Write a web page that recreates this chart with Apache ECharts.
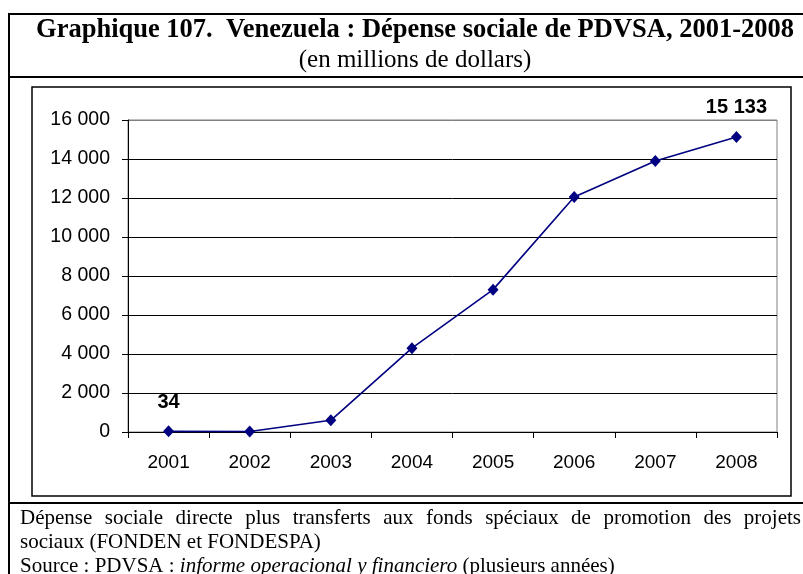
<!DOCTYPE html>
<html>
<head>
<meta charset="utf-8">
<script src="https://cdn.jsdelivr.net/npm/echarts@6/dist/echarts.min.js"></script>
<style>
html,body{margin:0;padding:0;background:#fff;}
#chart{width:803px;height:574px;}
</style>
</head>
<body>
<div id="chart"></div>
<script>
const titleLine = "Graphique 107.  Venezuela : Dépense sociale de PDVSA, 2001-2008";
const subtitleLine = "(en millions de dollars)";
const noteLine1 = "Dépense sociale directe plus transferts aux fonds spéciaux de promotion des projets";
const noteLine2 = "sociaux (FONDEN et FONDESPA)";
const sourcePrefix = "Source : PDVSA : ";
const sourceItalic = "informe operacional y financiero";
const sourceSuffix = " (plusieurs années)";

const years = ["2001", "2002", "2003", "2004", "2005", "2006", "2007", "2008"];
const spending = [34, 25, 600, 4300, 7300, 12050, 13900, 15133];
const labelledYears = ["2001", "2008"];
const yTicks = [0, 2000, 4000, 6000, 8000, 10000, 12000, 14000, 16000];

function fmt(v) {
  return String(Math.round(v)).replace(/\B(?=(\d{3})+(?!\d))/g, " ");
}

const serif = '"Liberation Serif", "Times New Roman", serif';
const sans = '"Liberation Sans", Arial, sans-serif';

// justified first note line
const noteFont = '21px ' + serif;
const cv = document.createElement('canvas').getContext('2d');
cv.font = noteFont;
const words = noteLine1.split(' ');
const wWidths = words.map(w => cv.measureText(w).width);
const leftX = 20, rightX = 801;
const totalW = wWidths.reduce((a, b) => a + b, 0);
const gap = (rightX - leftX - totalW) / (words.length - 1);
const justified = [];
let cx = leftX;
words.forEach((w, i) => {
  justified.push({
    type: 'text', x: cx, y: 518,
    style: { text: w, font: noteFont, fill: '#000', textVerticalAlign: 'middle', textAlign: 'left' }
  });
  cx += wWidths[i] + gap;
});

const gridColors = yTicks.map((t, i) => i === yTicks.length - 1 ? '#808080' : '#000');

const chart = echarts.init(document.getElementById('chart'), null, { renderer: 'canvas' });

chart.setOption({
  animation: false,
  backgroundColor: '#fff',
  grid: {
    left: 128, right: 26, top: 120, bottom: 142,
    show: true, borderColor: '#808080', borderWidth: 1, backgroundColor: 'transparent'
  },
  xAxis: {
    type: 'category',
    data: years,
    boundaryGap: true,
    axisLine: { lineStyle: { color: '#000', width: 1 } },
    axisTick: { show: true, length: 6, inside: false, lineStyle: { color: '#000' } },
    axisLabel: { color: '#000', fontSize: 19, fontFamily: sans, margin: 21 },
    splitLine: { show: false }
  },
  yAxis: {
    type: 'value',
    min: yTicks[0], max: yTicks[yTicks.length - 1], interval: 2000,
    axisLine: { show: true, lineStyle: { color: '#000', width: 1 } },
    axisTick: { show: true, length: 6, lineStyle: { color: '#000' } },
    axisLabel: { color: '#000', fontSize: 19.5, fontFamily: sans, margin: 18, formatter: v => fmt(v) },
    splitLine: { show: true, lineStyle: { color: gridColors, width: 1 } }
  },
  series: [{
    type: 'line',
    data: spending.map((v, i) => ({
      value: v,
      label: {
        show: labelledYears.indexOf(years[i]) >= 0,
        position: 'top', distance: 13,
        formatter: p => fmt(p.value),
        fontSize: 20, fontWeight: 'bold', fontFamily: sans, color: '#000'
      }
    })),
    symbol: 'diamond',
    symbolSize: [11, 12],
    showAllSymbol: true,
    lineStyle: { color: '#000080', width: 1.6 },
    itemStyle: { color: '#000080' },
    z: 5
  }],
  graphic: [
    // outer frame
    { type: 'line', shape: { x1: 8, y1: 14, x2: 803, y2: 14 }, style: { stroke: '#000', lineWidth: 2 } },
    { type: 'line', shape: { x1: 9, y1: 14, x2: 9, y2: 574 }, style: { stroke: '#000', lineWidth: 2 } },
    { type: 'line', shape: { x1: 8, y1: 77, x2: 803, y2: 77 }, style: { stroke: '#000', lineWidth: 2 } },
    { type: 'line', shape: { x1: 8, y1: 503, x2: 803, y2: 503 }, style: { stroke: '#000', lineWidth: 2 } },
    // inner chart box
    { type: 'rect', shape: { x: 32, y: 87, width: 759, height: 409 }, style: { fill: 'none', stroke: '#000', lineWidth: 1.5 } },
    // titles
    { type: 'text', x: 415, y: 30, style: { text: titleLine, font: 'bold 26.5px ' + serif, fill: '#000', textAlign: 'center', textVerticalAlign: 'middle' } },
    { type: 'text', x: 415, y: 60, style: { text: subtitleLine, font: '25px ' + serif, fill: '#000', textAlign: 'center', textVerticalAlign: 'middle' } },
    // notes
    ...justified,
    { type: 'text', x: 20, y: 542, style: { text: noteLine2, font: noteFont, fill: '#000', textVerticalAlign: 'middle' } },
    { type: 'text', x: 20, y: 566, style: {
        text: sourcePrefix + '{i|' + sourceItalic + '}' + sourceSuffix,
        font: noteFont, fill: '#000', textVerticalAlign: 'middle',
        rich: { i: { fontStyle: 'italic', fontSize: 21, fontFamily: serif, fill: '#000' } }
      } }
  ]
});
</script>
</body>
</html>
